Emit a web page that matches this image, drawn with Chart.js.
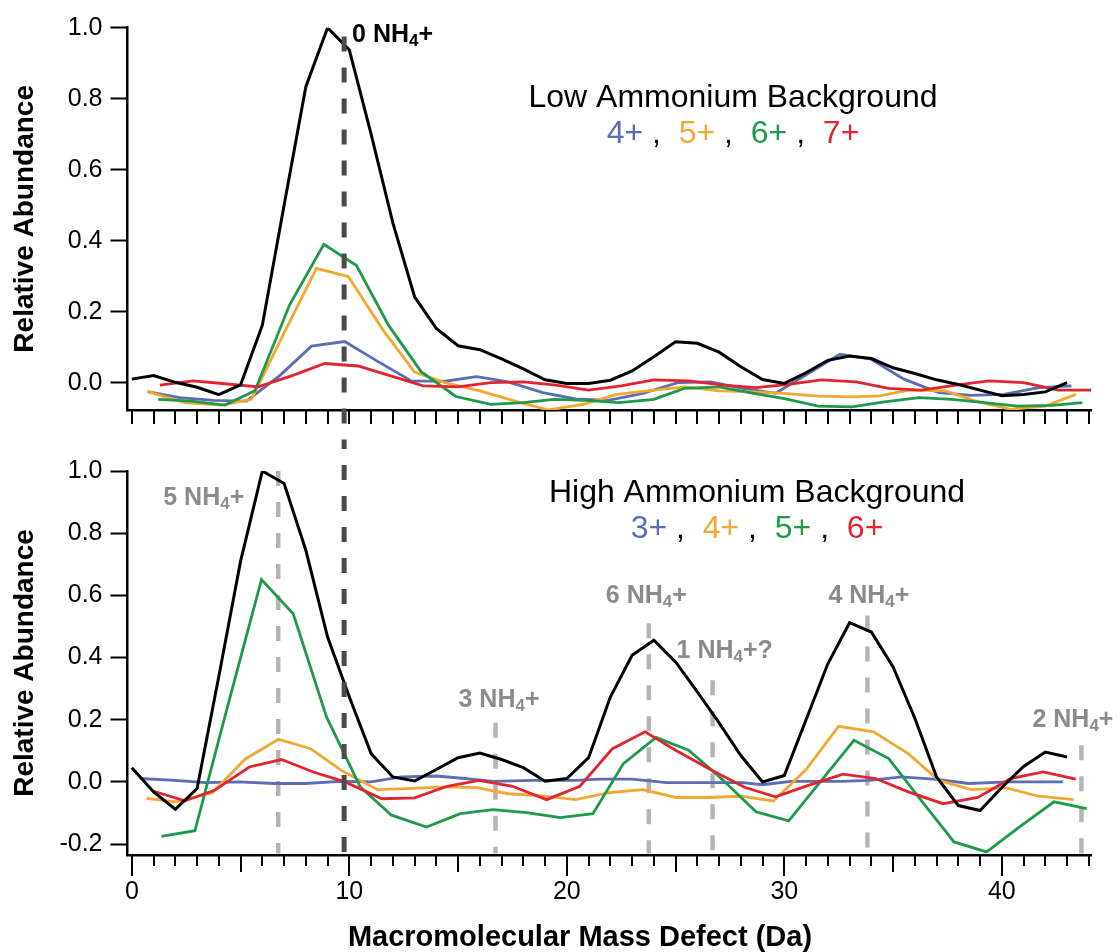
<!DOCTYPE html>
<html><head><meta charset="utf-8">
<script src="https://cdn.jsdelivr.net/npm/chart.js@4.4.1/dist/chart.umd.min.js"></script>
<style>
html,body{margin:0;padding:0;background:#fff;}
#wrap{position:relative;width:1120px;height:952px;overflow:hidden;}
canvas{position:absolute;left:0;}
#c1{top:0;} #c2{top:440px;}
</style></head><body>
<div id="wrap"><canvas id="c1" width="1120" height="440"></canvas><canvas id="c2" width="1120" height="512"></canvas></div>
<script>
// ---------------- DATA ----------------
// Low ammonium background (top panel)
const lowTotalX = [0,1,2,3,4,5,6,7,8,9,10,11,12,13,14,15,16,17,18,19,20,21,22,23,24,25,26,27,28,29,30,31,32,33,34,35,36,37,38,39,40,41,42,43];
const lowTotal  = [0.010,0.020,0.001,-0.013,-0.034,-0.006,0.162,0.50,0.834,1.0,0.937,0.70,0.45,0.242,0.153,0.104,0.093,0.067,0.039,0.008,-0.002,-0.002,0.007,0.033,0.073,0.115,0.111,0.086,0.045,0.009,-0.002,0.028,0.063,0.075,0.068,0.042,0.026,0.008,-0.005,-0.021,-0.037,-0.033,-0.026,0.000];
const low4X = [0.72,2.2,3.75,5.27,6.8,8.26,9.79,11.3,12.85,14.4,15.85,17.3,18.9,20.4,21.9,23.5,25.1,26.6,28.1,29.6,31.1,32.55,34.0,35.5,37.1,38.6,40.1,41.7,43.2];
const low4  = [-0.025,-0.042,-0.05,-0.052,0.02,0.103,0.116,0.06,0.005,0.004,0.017,0.002,-0.028,-0.046,-0.05,-0.03,0.0,0.002,-0.016,-0.03,0.026,0.08,0.066,0.01,-0.028,-0.036,-0.033,-0.014,-0.009];
const low5X = [0.72,2.44,4.12,5.5,7.0,8.49,9.95,11.55,13.0,14.4,16.0,17.5,19.15,20.75,22.3,24.0,25.4,27.0,28.5,30.0,31.56,33.1,34.4,35.7,37.4,38.8,40.4,42.0,43.4];
const low5  = [-0.025,-0.056,-0.063,-0.047,0.14,0.322,0.299,0.148,0.03,0.0,-0.023,-0.05,-0.077,-0.061,-0.033,-0.021,-0.012,-0.023,-0.026,-0.03,-0.038,-0.04,-0.037,-0.021,-0.023,-0.052,-0.075,-0.066,-0.033];
const low6X = [1.21,2.74,4.28,5.66,7.26,8.83,10.33,11.8,13.3,14.9,16.5,18.0,19.4,20.9,22.4,24.0,25.4,27.0,28.4,30.0,31.56,33.1,34.6,36.2,37.7,39.2,40.7,42.3,43.7];
const low6  = [-0.047,-0.052,-0.063,-0.023,0.22,0.39,0.33,0.162,0.031,-0.039,-0.061,-0.056,-0.047,-0.05,-0.056,-0.047,-0.016,-0.012,-0.028,-0.045,-0.066,-0.068,-0.054,-0.042,-0.047,-0.056,-0.066,-0.064,-0.056];
const low7X = [1.29,2.82,4.28,5.81,7.34,8.87,10.4,11.9,13.4,15.0,16.5,18.0,19.5,21.0,22.5,24.0,25.6,27.2,28.7,30.2,31.7,33.3,34.8,36.3,37.9,39.4,41.0,42.6,44.1];
const low7  = [-0.007,0.005,-0.003,-0.012,0.019,0.054,0.047,0.019,-0.009,-0.012,0.0,0.002,-0.007,-0.021,-0.009,0.008,0.005,-0.007,-0.014,-0.005,0.008,0.002,-0.016,-0.021,-0.007,0.005,0.0,-0.021,-0.021];

// High ammonium background (bottom panel)
const highTotalX = [0,1,2,3,4,5,6,7,8,9,10,11,12,13,14,15,16,17,18,19,20,21,22,23,24,25,26,27,28,29,30,31,32,33,34,35,36,37,38,39,40,41,42,43];
const highTotal  = [0.046,-0.032,-0.088,-0.021,0.34,0.71,1.0,0.96,0.745,0.466,0.273,0.091,0.016,0.003,0.040,0.078,0.093,0.072,0.046,0.002,0.011,0.078,0.273,0.407,0.456,0.386,0.29,0.19,0.085,0.0,0.021,0.20,0.38,0.512,0.482,0.37,0.205,0.016,-0.076,-0.092,-0.018,0.05,0.096,0.08];
const high3X = [0.37,1.98,3.4,4.9,6.57,7.95,9.56,11.0,12.4,14.0,15.3,16.6,18.45,20.4,21.5,23.0,24.6,26.6,28.1,29.0,30.3,32.6,33.9,35.4,37.0,38.5,40.3,42.8];
const high3  = [0.011,0.005,-0.002,0.0,-0.005,-0.005,0.002,0.0,0.016,0.019,0.011,0.002,0.005,0.005,0.009,0.009,-0.002,-0.002,-0.002,-0.009,0.002,0.002,0.005,0.016,0.008,-0.005,0.0,0.0];
const high4X = [0.67,2.05,3.7,5.22,6.75,8.22,9.68,11.3,12.9,14.4,15.85,17.3,18.9,20.4,22.0,23.5,25.0,26.5,28.0,29.5,31.0,32.5,34.1,35.7,37.1,38.6,40.2,41.7,43.3];
const high4  = [-0.053,-0.064,-0.035,0.074,0.137,0.107,0.035,-0.025,-0.021,-0.016,-0.018,-0.038,-0.045,-0.057,-0.034,-0.025,-0.05,-0.05,-0.046,-0.061,0.04,0.179,0.161,0.091,0.005,-0.025,-0.019,-0.046,-0.057];
const high5X = [1.36,2.9,4.43,5.96,7.42,8.95,10.5,11.94,13.55,15.1,16.6,18.15,19.7,21.2,22.6,24.1,25.6,27.1,28.7,30.2,31.7,33.2,34.8,36.3,37.8,39.3,40.8,42.4,43.9];
const high5  = [-0.175,-0.157,0.25,0.651,0.541,0.209,-0.016,-0.107,-0.145,-0.102,-0.089,-0.099,-0.115,-0.102,0.059,0.143,0.102,0.011,-0.096,-0.125,0.004,0.134,0.075,-0.06,-0.193,-0.225,-0.145,-0.064,-0.086];
const high6X = [1.0,2.44,3.8,5.4,6.88,8.34,9.8,11.5,13.0,14.5,15.96,17.5,19.07,20.6,22.1,23.6,25.0,26.6,28.2,29.6,31.1,32.7,34.2,35.7,37.3,38.9,40.4,41.9,43.4];
const high6  = [-0.03,-0.061,-0.027,0.048,0.072,0.032,0.0,-0.054,-0.051,-0.014,0.005,-0.014,-0.057,-0.014,0.107,0.161,0.102,0.04,-0.018,-0.048,-0.011,0.025,0.011,-0.032,-0.07,-0.05,0.011,0.032,0.009];

// Tick labels
const yTicksLow  = [0, 0.2, 0.4, 0.6, 0.8, 1.0];
const yTicksHigh = [-0.2, 0, 0.2, 0.4, 0.6, 0.8, 1.0];
const xTickLabels = [0, 10, 20, 30, 40];

// Annotations (mass-defect positions of NH4+ adducts)
const lowAnnX = [9.76];
const lowAnnText = ['0'];
const highAnnX = [6.73, 16.72, 23.77, 26.7, 33.82, 43.66];
const highAnnText = ['5', '3', '6', '1', '4', '2'];
const highAnnSuffix = ['', '', '', '?', '', ''];
const highAnnTop = [1.0, 0.19, 0.51, 0.327, 0.535, 0.118];

// ---------------- STYLE ----------------
const FONT = "'Liberation Sans', Arial, Helvetica, sans-serif";
Chart.defaults.font.family = FONT;
const C = {black:'#000000', blue:'#5a6db5', orange:'#f2a831', green:'#1f9a4b', red:'#e0252f',
           grayText:'#8b8b8b', lightDash:'#b4b4b4', darkDash:'#4a4a4a'};

function pts(xs, ys){ return xs.map((x,i)=>({x:x, y:ys[i]})); }
function ds(label, xs, ys, color, w){
  return {label, data: pts(xs, ys), borderColor: color, backgroundColor: color,
          borderWidth: w, pointRadius: 0, tension: 0, fill: false};
}

function drawRich(ctx, parts, x, y, align, size, weight){
  const items = parts.map(p => {
    const fs = p.sub ? Math.round(size*0.66) : size;
    ctx.font = weight + ' ' + fs + 'px ' + FONT;
    return {p, fs, w: ctx.measureText(p.t).width};
  });
  const total = items.reduce((a,b)=>a+b.w, 0);
  let cx = align === 'center' ? x - total/2 : (align === 'right' ? x - total : x);
  ctx.textBaseline = 'alphabetic';
  ctx.textAlign = 'left';
  for (const it of items){
    ctx.font = weight + ' ' + it.fs + 'px ' + FONT;
    ctx.fillStyle = it.p.c;
    ctx.fillText(it.p.t, cx, y + (it.p.sub ? size*0.16 : 0));
    cx += it.w;
  }
}
function nh4(num, color, suffix){
  return [{t: num + ' NH', c: color}, {t: '4', c: color, sub: true}, {t: '+' + (suffix||''), c: color}];
}
function legend(labels, colors){
  const parts = [];
  labels.forEach((l,i)=>{ if(i) parts.push({t:' ,  ', c:'#000'}); parts.push({t:l, c:colors[i]}); });
  return parts;
}

function xAxis(showLabels){
  return {
    type:'linear', min:-0.2, max:44.1,
    afterBuildTicks: s => { s.ticks = xTickLabels.map(v=>({value:v})); },
    afterFit: s => { s.height = showLabels ? 97 : 30; },
    border:{display:true, color:'#000', width:2.5},
    grid:{display:false, drawOnChartArea:false, drawTicks:false},
    ticks:{display:showLabels, color:'#000', font:{size:25}, padding:22, maxRotation:0, autoSkip:false,
           callback: v => String(v)}
  };
}
function yAxis(min, max, tickVals){
  return {
    type:'linear', min, max,
    afterBuildTicks: s => { s.ticks = tickVals.map(v=>({value:v})); },
    afterFit: s => { s.width = 127.5; },
    border:{display:true, color:'#000', width:2.5},
    grid:{drawOnChartArea:false, drawTicks:true, tickLength:17, tickColor:'#000', tickWidth:2},
    ticks:{color:'#000', font:{size:25}, padding:8, callback: v => Number(v).toFixed(1)},
    title:{display:true, text:'Relative Abundance', color:'#000', font:{size:28, weight:'bold'}, padding:{top:8, bottom:0}}
  };
}

function vline(ctx, x, y1, y2, color, width){
  ctx.save();
  ctx.strokeStyle = color; ctx.lineWidth = width; ctx.setLineDash([15,16]);
  ctx.beginPath(); ctx.moveTo(x, y1); ctx.lineTo(x, y2); ctx.stroke();
  ctx.restore();
}
function xTicks(chart, lenFn){
  const ctx = chart.ctx, xs = chart.scales.x, b = chart.chartArea.bottom;
  ctx.save(); ctx.strokeStyle = '#000'; ctx.lineWidth = 2;
  for (let v = 0; v <= 44; v++){
    const px = Math.round(xs.getPixelForValue(v));
    ctx.beginPath(); ctx.moveTo(px, b); ctx.lineTo(px, b + lenFn(v)); ctx.stroke();
  }
  ctx.restore();
}

// ---------------- TOP CHART ----------------
const topPlugin = {
  id:'topDecor',
  afterDatasetsDraw(chart){
    const ctx = chart.ctx, xs = chart.scales.x, ys = chart.scales.y;
    lowAnnX.forEach(v => vline(ctx, xs.getPixelForValue(v), ys.getPixelForValue(0.975), chart.height, C.darkDash, 5));
  },
  afterDraw(chart){
    const ctx = chart.ctx, xs = chart.scales.x, ys = chart.scales.y;
    xTicks(chart, v => 14);
    lowAnnX.forEach((v,i) => drawRich(ctx, nh4(lowAnnText[i], '#000'), xs.getPixelForValue(v) + 8, ys.getPixelForValue(0.96), 'left', 25, 'bold'));
    drawRich(ctx, [{t:'Low Ammonium Background', c:'#000'}], 733, 107, 'center', 32, 'normal');
    drawRich(ctx, legend(['4+','5+','6+','7+'], [C.blue, C.orange, C.green, C.red]), 733, 143, 'center', 32, 'normal');
  }
};
new Chart(document.getElementById('c1'), {
  type:'line',
  data:{datasets:[
    ds('total', lowTotalX, lowTotal, C.black, 3),
    ds('7+', low7X, low7, C.red, 2.8),
    ds('6+', low6X, low6, C.green, 2.8),
    ds('5+', low5X, low5, C.orange, 2.8),
    ds('4+', low4X, low4, C.blue, 2.8)
  ]},
  options:{
    responsive:false, animation:false, devicePixelRatio:1,
    layout:{padding:{top:27.7, right:29, left:0, bottom:0}},
    plugins:{legend:{display:false}, tooltip:{enabled:false}},
    scales:{x: xAxis(false), y: yAxis(-0.077, 1.0, yTicksLow)}
  },
  plugins:[topPlugin]
});

// ---------------- BOTTOM CHART ----------------
const botPlugin = {
  id:'botDecor',
  beforeDatasetsDraw(chart){
    const ctx = chart.ctx, xs = chart.scales.x, ys = chart.scales.y;
    highAnnX.forEach((v,i) => vline(ctx, xs.getPixelForValue(v), ys.getPixelForValue(highAnnTop[i]), ys.getPixelForValue(-0.23), C.lightDash, 4.5));
  },
  afterDatasetsDraw(chart){
    const ctx = chart.ctx, xs = chart.scales.x, ys = chart.scales.y;
    lowAnnX.forEach(v => vline(ctx, xs.getPixelForValue(v), -6, ys.getPixelForValue(-0.226), C.darkDash, 5));
  },
  afterDraw(chart){
    const ctx = chart.ctx, xs = chart.scales.x, ys = chart.scales.y;
    xTicks(chart, v => v % 10 === 0 ? 21 : (v % 5 === 0 ? 17 : 11));
    const dx = [-115, -37, -43, -36, -39, -49];
    const base = [0.89, 0.24, 0.575, 0.40, 0.575, 0.176];
    highAnnX.forEach((v,i) => drawRich(ctx, nh4(highAnnText[i], C.grayText, highAnnSuffix[i]), xs.getPixelForValue(v) + dx[i], ys.getPixelForValue(base[i]), 'left', 25, 'bold'));
    drawRich(ctx, [{t:'High Ammonium Background', c:'#000'}], 757, 62, 'center', 32, 'normal');
    drawRich(ctx, legend(['3+','4+','5+','6+'], [C.blue, C.orange, C.green, C.red]), 757, 98, 'center', 32, 'normal');
    drawRich(ctx, [{t:'Macromolecular Mass Defect (Da)', c:'#000'}], 580, 506, 'center', 29, 'bold');
  }
};
new Chart(document.getElementById('c2'), {
  type:'line',
  data:{datasets:[
    ds('total', highTotalX, highTotal, C.black, 3),
    ds('6+', high6X, high6, C.red, 2.8),
    ds('5+', high5X, high5, C.green, 2.8),
    ds('4+', high4X, high4, C.orange, 2.8),
    ds('3+', high3X, high3, C.blue, 2.8)
  ]},
  options:{
    responsive:false, animation:false, devicePixelRatio:1,
    layout:{padding:{top:31, right:29, left:0, bottom:0}},
    plugins:{legend:{display:false}, tooltip:{enabled:false}},
    scales:{x: xAxis(true), y: yAxis(-0.235, 1.0, yTicksHigh)}
  },
  plugins:[botPlugin]
});
</script>
</body></html>
